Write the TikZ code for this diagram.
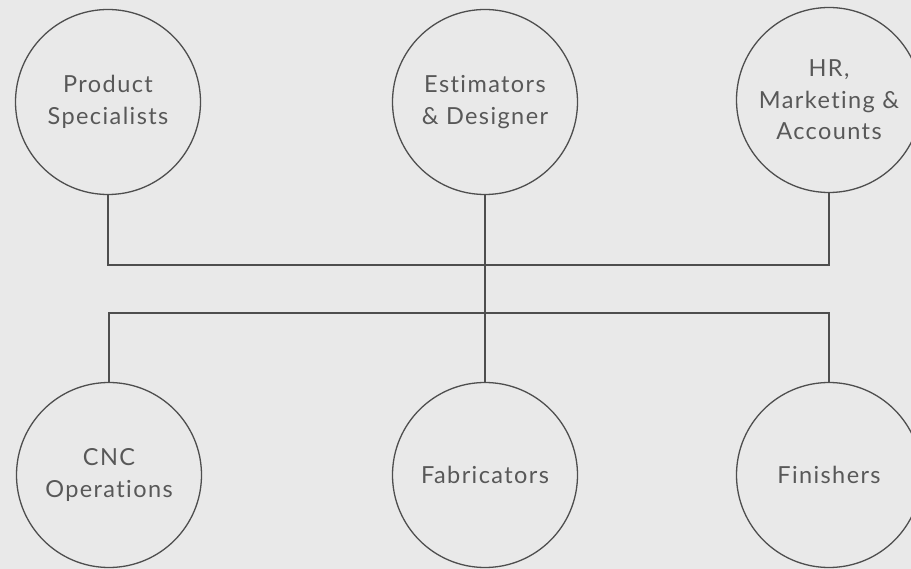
\documentclass[tikz,border=0pt]{standalone}
\usepackage{fontspec}
\setmainfont{Lato}[LetterSpace=6,Ligatures=NoCommon]
\definecolor{bgc}{HTML}{E9E9E9}
\definecolor{linec}{HTML}{4E4E4E}
\definecolor{textc}{HTML}{585858}
\begin{document}
\begin{tikzpicture}[x=1pt,y=-1pt,
  unit/.style={circle,draw=linec,line width=1.3pt,minimum size=185pt,inner sep=0pt,align=center,
    text=textc,font=\fontsize{23.5}{31.5}\selectfont},
  link/.style={draw=linec,line width=1.6pt}]
\fill[bgc] (0,0) rectangle (911,569);
\useasboundingbox (0,0) rectangle (911,569);
\node[unit] (ps) at (108,102) {Product\\Specialists};
\node[unit] (ed) at (485,102) {Estimators\\\& Designer};
\node[unit] (hr) at (829,100) {HR,\\Marketing \&\\Accounts};
\node[unit] (cnc) at (109,475) {CNC\\Operations};
\node[unit] (fab) at (485,475) {Fabricators};
\node[unit] (fin) at (829,475) {Finishers};
\coordinate (j1) at (485,265);
\coordinate (j2) at (485,313);
\draw[link] (ps.south) |- (j1) -| (hr.south);
\draw[link] (ed.south) -- (j2);
\draw[link] (cnc.north) |- (j2) -| (fin.north);
\draw[link] (j2) -- (fab.north);
\end{tikzpicture}
\end{document}
